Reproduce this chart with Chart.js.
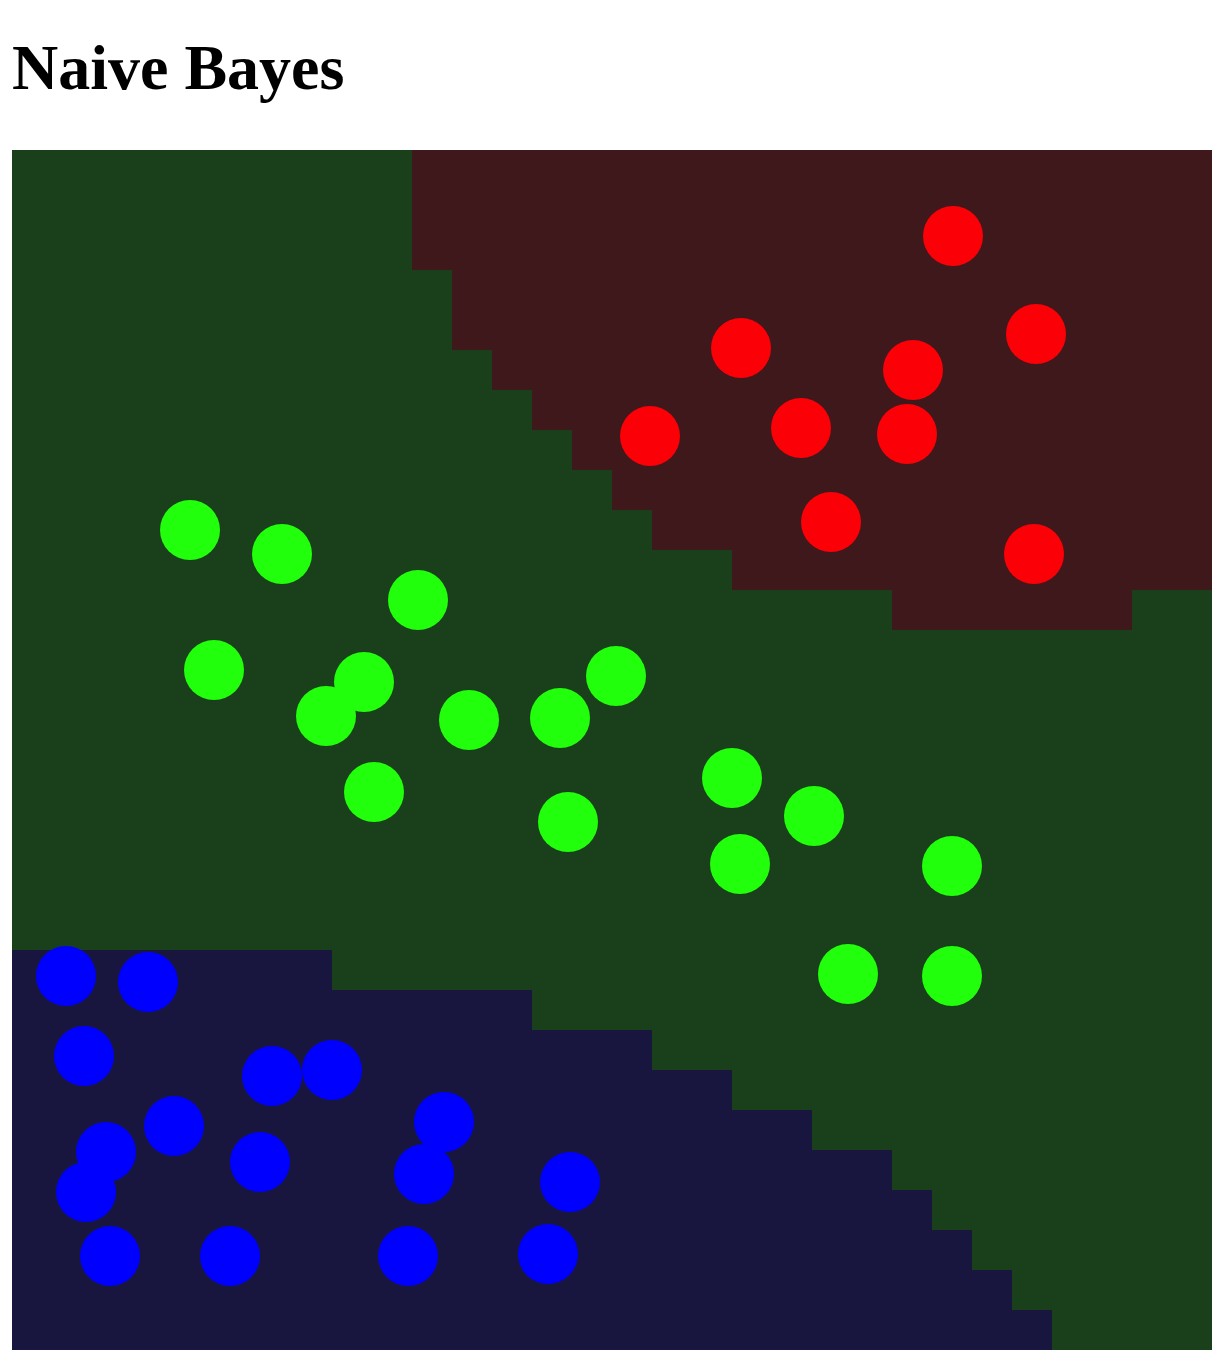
<!DOCTYPE html>
<html>
<head>
<meta charset="utf-8">
<script src="https://cdn.jsdelivr.net/npm/chart.js@4/dist/chart.umd.min.js"></script>
<style>
  html, body { margin: 0; padding: 0; background: #fff; }
  h1 { position: absolute; left: 12px; top: 36px; margin: 0; font: bold 64px/64px "Liberation Serif", "Times New Roman", serif; color: #000; white-space: nowrap; }
  #wrap { position: absolute; left: 12px; top: 150px; width: 1200px; height: 1200px; }
</style>
</head>
<body>
<h1>Naive Bayes</h1>
<div id="wrap"><canvas id="c"></canvas></div>
<script>
// Grid extent (cells per side)
const gridSize = 30;

// Decision regions, rows counted from the top of the grid
const redRowFirst = 0;
const redStartCol = [10, 10, 10, 11, 11, 12, 13, 14, 15, 16, 18, 22];
const redEndCol   = [30, 30, 30, 30, 30, 30, 30, 30, 30, 30, 30, 28];
const blueRowFirst = 20;
const blueStartCol = [0, 0, 0, 0, 0, 0, 0, 0, 0, 0];
const blueEndCol   = [8, 13, 16, 18, 20, 22, 23, 24, 25, 26];

// Training points
const redX = [23.525, 25.6, 18.225, 22.525, 19.725, 22.375, 15.95, 20.475, 25.55];
const redY = [27.85, 25.4, 25.05, 24.5, 23.05, 22.9, 22.85, 20.7, 19.9];

const greenX = [4.45, 6.75, 10.15, 5.05, 8.8, 7.85, 11.425, 13.7, 15.1, 9.05, 13.9, 18.0, 20.05, 18.2, 23.5, 20.9, 23.5];
const greenY = [20.5, 19.9, 18.75, 17.0, 16.7, 15.85, 15.75, 15.8, 16.85, 13.95, 13.2, 14.3, 13.35, 12.15, 12.1, 9.4, 9.35];

const blueX = [1.35, 3.4, 1.8, 6.5, 8.0, 4.05, 2.35, 1.85, 6.2, 10.8, 10.3, 13.95, 2.45, 5.45, 9.9, 13.4];
const blueY = [9.35, 9.2, 7.35, 6.85, 7.0, 5.6, 4.95, 3.95, 4.7, 5.7, 4.4, 4.2, 2.35, 2.35, 2.35, 2.4];

const bgGreen = 'rgb(26,64,27)';
const bgRed = 'rgb(63,24,27)';
const bgBlue = 'rgb(24,22,63)';

function pts(xs, ys) { return xs.map((x, i) => ({ x: x, y: ys[i] })); }

const regionPlugin = {
  id: 'regions',
  beforeDatasetsDraw(chart) {
    const ctx = chart.ctx;
    const xs = chart.scales.x, ys = chart.scales.y;
    const rect = (c0, c1, row, color) => {
      const x0 = Math.round(xs.getPixelForValue(c0)), x1 = Math.round(xs.getPixelForValue(c1));
      const yTop = Math.round(ys.getPixelForValue(gridSize - row)), yBot = Math.round(ys.getPixelForValue(gridSize - row - 1));
      ctx.fillStyle = color;
      ctx.fillRect(x0, yTop, x1 - x0, yBot - yTop);
    };
    ctx.save();
    const X0 = Math.round(xs.getPixelForValue(0)), X1 = Math.round(xs.getPixelForValue(gridSize));
    const Y0 = Math.round(ys.getPixelForValue(gridSize)), Y1 = Math.round(ys.getPixelForValue(0));
    ctx.fillStyle = bgGreen;
    ctx.fillRect(X0, Y0, X1 - X0, Y1 - Y0);
    redStartCol.forEach((s, i) => rect(s, redEndCol[i], redRowFirst + i, bgRed));
    blueEndCol.forEach((e, i) => rect(blueStartCol[i], e, blueRowFirst + i, bgBlue));
    ctx.restore();
  }
};

new Chart(document.getElementById('c'), {
  type: 'scatter',
  data: {
    datasets: [
      { label: 'red', data: pts(redX, redY), backgroundColor: 'rgb(252,0,7)', borderWidth: 0, pointRadius: 30, pointHoverRadius: 30 },
      { label: 'green', data: pts(greenX, greenY), backgroundColor: 'rgb(34,255,12)', borderWidth: 0, pointRadius: 30, pointHoverRadius: 30 },
      { label: 'blue', data: pts(blueX, blueY), backgroundColor: 'rgb(0,0,255)', borderWidth: 0, pointRadius: 30, pointHoverRadius: 30 }
    ]
  },
  options: {
    responsive: true,
    maintainAspectRatio: false,
    animation: false,
    layout: { padding: 0, autoPadding: false },
    plugins: { legend: { display: false }, tooltip: { enabled: false }, title: { display: false } },
    events: [],
    scales: {
      x: { type: 'linear', min: 0, max: gridSize, display: false },
      y: { type: 'linear', min: 0, max: gridSize, display: false }
    }
  },
  plugins: [regionPlugin]
});
</script>
</body>
</html>
